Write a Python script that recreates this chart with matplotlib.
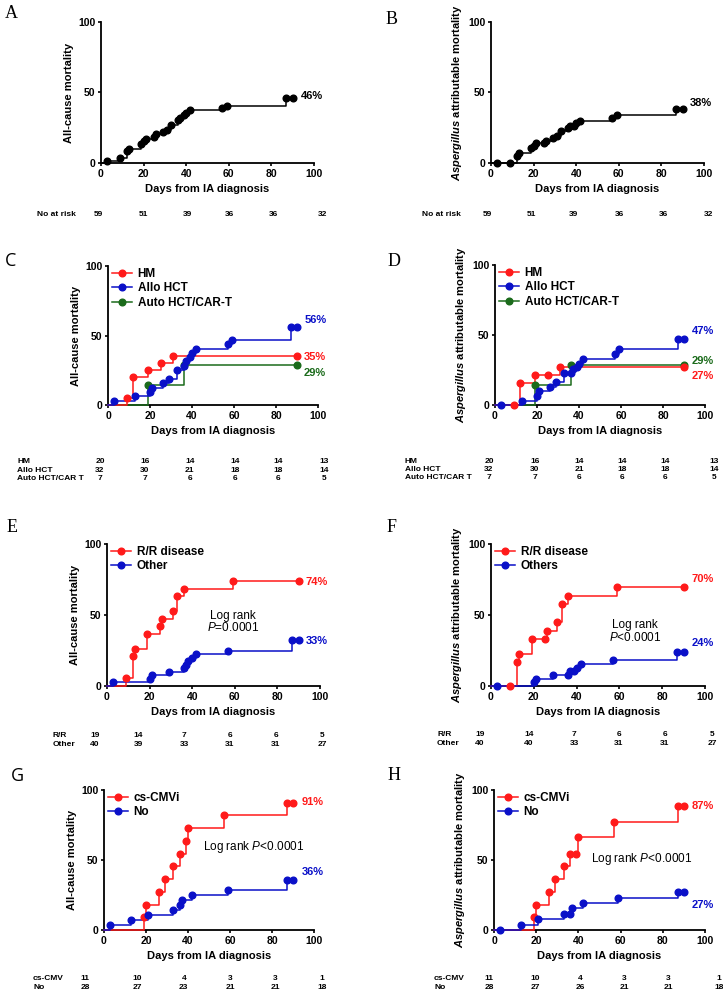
import matplotlib
matplotlib.use("Agg")
import matplotlib.pyplot as plt
import matplotlib.transforms as mtransforms
from matplotlib.lines import Line2D

# ---- data (days from IA diagnosis, cumulative mortality %) ----
A_DAYS = [3, 9, 12, 13, 19, 20, 21, 25, 26, 29, 31, 33, 36, 37, 39, 40, 42, 57, 59, 87, 90]
A_MORT = [1.7, 3.4, 8.5, 10.2, 13.6, 15.3, 17.0, 18.6, 20.3, 22.0, 23.7, 27.1, 30.5, 32.2,
          33.9, 35.6, 37.3, 39.0, 40.7, 45.8, 45.8]

B_DAYS = [3, 9, 12, 13, 19, 20, 21, 25, 26, 29, 31, 33, 36, 37, 39, 40, 42, 57, 59, 87, 90]
B_MORT = [0, 0, 5.3, 7.1, 10.6, 12.4, 14.1, 14.1, 15.9, 17.6, 19.4, 23.0, 24.7, 26.5,
          26.5, 28.3, 30.0, 32.0, 34.0, 38.0, 38.0]

C_HM_DAYS = [9, 12, 19, 25, 31, 90]
C_HM = [5, 20, 25, 30, 35, 35]
C_ALLO_DAYS = [3, 13, 20, 21, 26, 29, 33, 36, 37, 39, 40, 42, 57, 59, 87, 90]
C_ALLO = [3.1, 6.3, 9.4, 12.5, 15.6, 18.8, 25.0, 28.1, 31.3, 34.4, 37.5, 40.6, 43.8, 46.9, 56.3, 56.3]
C_AUTO_DAYS = [19, 36, 90]
C_AUTO = [14.3, 28.6, 28.6]

D_HM_DAYS = [9, 12, 19, 25, 31, 90]
D_HM = [0, 15.8, 21.1, 21.1, 26.8, 26.8]
D_ALLO_DAYS = [3, 13, 20, 21, 26, 29, 33, 36, 37, 39, 40, 42, 57, 59, 87, 90]
D_ALLO = [0, 3.2, 6.5, 9.7, 13.0, 16.2, 22.6, 22.6, 25.5, 27.0, 29.5, 32.6, 36.3, 40.3, 47.0, 47.0]
D_AUTO_DAYS = [19, 36, 90]
D_AUTO = [14.3, 28.6, 28.6]

E_RR_DAYS = [9, 12, 13, 19, 25, 26, 31, 33, 36, 59, 90]
E_RR = [5.3, 21.1, 26.3, 36.8, 42.1, 47.4, 52.6, 63.2, 68.4, 73.7, 73.7]
E_OTHER_DAYS = [3, 20, 21, 29, 36, 37, 38, 40, 42, 57, 87, 90]
E_OTHER = [2.5, 5.0, 7.5, 10.0, 12.5, 15.0, 17.5, 20.0, 22.5, 25.0, 32.5, 32.5]

F_RR_DAYS = [9, 12, 13, 19, 25, 26, 31, 33, 36, 59, 90]
F_RR = [0, 16.7, 22.2, 33.3, 33.3, 38.9, 45.4, 57.6, 63.7, 69.8, 69.8]
F_OTHER_DAYS = [3, 20, 21, 29, 36, 37, 39, 40, 42, 57, 87, 90]
F_OTHER = [0, 2.6, 5.1, 7.7, 7.7, 10.3, 10.3, 12.8, 15.4, 18.0, 23.6, 23.6]

G_CMV_DAYS = [19, 20, 26, 29, 33, 36, 39, 40, 57, 87, 90]
G_CMV = [9.1, 18.2, 27.3, 36.4, 45.5, 54.5, 63.6, 72.7, 81.8, 90.9, 90.9]
G_NO_DAYS = [3, 13, 21, 33, 36, 37, 42, 59, 87, 90]
G_NO = [3.6, 7.1, 10.7, 14.3, 17.9, 21.4, 25.0, 28.6, 35.7, 35.7]

H_CMV_DAYS = [19, 20, 26, 29, 33, 36, 39, 40, 57, 87, 90]
H_CMV = [9.1, 18.2, 27.3, 36.4, 45.5, 54.5, 54.5, 66.2, 77.4, 88.7, 88.7]
H_NO_DAYS = [3, 13, 21, 33, 36, 37, 42, 59, 87, 90]
H_NO = [0, 3.8, 7.7, 11.5, 11.5, 15.4, 19.2, 23.1, 26.9, 26.9]

# numbers at risk
RISK_ALL = [59, 51, 39, 36, 36, 32]
RISK_HM = [20, 16, 14, 14, 14, 13]
RISK_ALLO = [32, 30, 21, 18, 18, 14]
RISK_AUTO = [7, 7, 6, 6, 6, 5]
RISK_RR = [19, 14, 7, 6, 6, 5]
RISK_OTHER_E = [40, 39, 33, 31, 31, 27]
RISK_OTHER_F = [40, 40, 33, 31, 31, 27]
RISK_CMV = [11, 10, 4, 3, 3, 1]
RISK_NO_G = [28, 27, 23, 21, 21, 18]
RISK_NO_H = [28, 27, 26, 21, 21, 18]

RED = "#ff1a1a"
BLUE = "#0a10c8"
GREEN = "#1b6b1b"
BLACK = "#000000"

YLAB_ALL = "All-cause mortality"
YLAB_ASP = r"$\it{Aspergillus}$ attributable mortality"

plt.rcParams["font.family"] = "Liberation Sans"
plt.rcParams["font.weight"] = "bold"
plt.rcParams["axes.labelweight"] = "bold"
plt.rcParams["mathtext.fontset"] = "custom"
plt.rcParams["mathtext.rm"] = "Liberation Sans:weight=bold"
plt.rcParams["mathtext.it"] = "Liberation Sans:style=italic:weight=bold"
plt.rcParams["mathtext.sf"] = "Liberation Sans:style=italic:weight=normal"

W, H = 723, 991
fig = plt.figure(figsize=(W / 100, H / 100), dpi=100)


def add_ax(x0, y0, x1, y1):
    """axes from pixel box (top-left origin)"""
    return fig.add_axes([x0 / W, 1 - y1 / H, (x1 - x0) / W, (y1 - y0) / H])


def km(ax, days, mort, color, label=None):
    ax.step([0] + days, [0] + mort, where="post", color=color, lw=1.1,
            clip_on=False, zorder=3)
    ax.plot(days, mort, "o", color=color, ms=4.8, clip_on=False, zorder=4)
    return Line2D([], [], color=color, lw=1.1, marker="o", ms=4.8, label=label)


def style(ax, ylabel):
    for s in ["top", "right"]:
        ax.spines[s].set_visible(False)
    for s in ["left", "bottom"]:
        ax.spines[s].set_linewidth(1.3)
    ax.set_xlim(0, 100)
    ax.set_ylim(0, 100)
    ax.set_xticks([0, 20, 40, 60, 80, 100])
    ax.set_yticks([0, 50, 100])
    ax.tick_params(direction="out", length=2.5, width=1.2, labelsize=7.5, pad=1.5)
    ax.set_xlabel("Days from IA diagnosis", fontsize=8, labelpad=4)
    ax.set_ylabel(ylabel, fontsize=8, labelpad=3)


def risk(ax, rows, xs, y0, lab_x):
    tr = mtransforms.blended_transform_factory(ax.transData, ax.transAxes)
    step = 8.4 / (ax.get_position().height * H)
    for i, (name, counts) in enumerate(rows):
        y = y0 - i * step
        ax.text(lab_x, y, name, transform=ax.transAxes, fontsize=6,
                ha="left", va="center")
        for x, n in zip(xs, counts):
            ax.text(x, y, str(n), transform=tr, fontsize=6, ha="center", va="center")


def pct(ax, x, y, txt, color):
    ax.text(x, y, txt, color=color, fontsize=8, ha="left", va="center", clip_on=False)


def letter(x, y, txt, family="Liberation Serif"):
    fig.text(x / W, 1 - y / H, txt, fontsize=13, fontweight="normal",
             family=family, ha="center", va="center")


def legend(ax, handles, anchor):
    ax.legend(handles=handles, loc="upper left", bbox_to_anchor=anchor, frameon=False,
              fontsize=8.5, handlelength=1.7, handletextpad=0.45, labelspacing=0.2,
              borderaxespad=0, borderpad=0, numpoints=1)


def logrank(ax, x, y, first, second=None):
    if second is None:
        ax.text(x, y, first, fontsize=8.5, fontweight="normal", ha="center", va="center")
    else:
        ax.text(x, y + 4.2, first, fontsize=8.5, fontweight="normal", ha="center", va="center")
        ax.text(x, y - 4.2, second, fontsize=8.5, fontweight="normal", ha="center", va="center")


# ---------------- A ----------------
ax = add_ax(101, 22, 314, 163)
km(ax, A_DAYS, A_MORT, BLACK)
style(ax, YLAB_ALL)
pct(ax, 93.9, 47.7, "46%", BLACK)
risk(ax, [("No at risk", RISK_ALL)], [-1, 19.7, 40.4, 60.5, 81.2, 103.8], -0.362, -0.30)
letter(11, 13, "A")

# ---------------- B ----------------
ax = add_ax(491, 22, 704, 163)
km(ax, B_DAYS, B_MORT, BLACK)
style(ax, YLAB_ASP)
pct(ax, 93.4, 42.8, "38%", BLACK)
risk(ax, [("No at risk", RISK_ALL)], [-1.9, 18.8, 38.5, 60.1, 80.8, 101.9], -0.362, -0.324)
letter(392, 19, "B")

# ---------------- C ----------------
ax = add_ax(108, 266, 318, 405)
h3 = km(ax, C_AUTO_DAYS, C_AUTO, GREEN, "Auto HCT/CAR-T")
h1 = km(ax, C_HM_DAYS, C_HM, RED, "HM")
h2 = km(ax, C_ALLO_DAYS, C_ALLO, BLUE, "Allo HCT")
style(ax, YLAB_ALL)
legend(ax, [h1, h2, h3], (0.02, 0.985))
pct(ax, 93.8, 61, "56%", BLUE)
pct(ax, 93.0, 34.5, "35%", RED)
pct(ax, 93.0, 23, "29%", GREEN)
risk(ax, [("HM", RISK_HM), ("Allo HCT", RISK_ALLO), ("Auto HCT/CAR T", RISK_AUTO)],
     [-3.8, 17.6, 39, 60.5, 81, 103], -0.41, -0.433)
letter(11, 261, "C", "Open Sans")

# ---------------- D ----------------
ax = add_ax(495, 265, 705, 405)
h3 = km(ax, D_AUTO_DAYS, D_AUTO, GREEN, "Auto HCT/CAR-T")
h1 = km(ax, D_HM_DAYS, D_HM, RED, "HM")
h2 = km(ax, D_ALLO_DAYS, D_ALLO, BLUE, "Allo HCT")
style(ax, YLAB_ASP)
legend(ax, [h1, h2, h3], (0.02, 0.985))
pct(ax, 93.8, 53, "47%", BLUE)
pct(ax, 93.8, 31.4, "29%", GREEN)
pct(ax, 93.8, 20.7, "27%", RED)
risk(ax, [("HM", RISK_HM), ("Allo HCT", RISK_ALLO), ("Auto HCT/CAR T", RISK_AUTO)],
     [-2.9, 19, 40, 60.5, 81, 104.3], -0.40, -0.429)
letter(394, 261, "D")

# ---------------- E ----------------
ax = add_ax(107, 544, 320, 686)
h1 = km(ax, E_RR_DAYS, E_RR, RED, "R/R disease")
h2 = km(ax, E_OTHER_DAYS, E_OTHER, BLUE, "Other")
style(ax, YLAB_ALL)
legend(ax, [h1, h2], (0.02, 0.985))
pct(ax, 93.4, 73.5, "74%", RED)
pct(ax, 93.4, 31.9, "33%", BLUE)
logrank(ax, 59.2, 45.2, "Log rank", r"$\mathsf{P}$=0.0001")
risk(ax, [("R/R", RISK_RR), ("Other", RISK_OTHER_E)],
     [-5.6, 14.6, 36.2, 57.7, 79.3, 101], -0.352, -0.254)
letter(12, 527, "E")

# ---------------- F ----------------
ax = add_ax(491, 544, 705, 686)
h1 = km(ax, F_RR_DAYS, F_RR, RED, "R/R disease")
h2 = km(ax, F_OTHER_DAYS, F_OTHER, BLUE, "Others")
style(ax, YLAB_ASP)
legend(ax, [h1, h2], (0.02, 0.985))
pct(ax, 93.9, 75.3, "70%", RED)
pct(ax, 93.9, 30, "24%", BLUE)
logrank(ax, 67.4, 38.6, "Log rank", r"$\mathsf{P}$<0.0001")
risk(ax, [("R/R", RISK_RR), ("Other", RISK_OTHER_F)],
     [-5.1, 17.8, 38.8, 59.8, 81.3, 103.3], -0.345, -0.252)
letter(392, 527, "F")

# ---------------- G ----------------
ax = add_ax(104, 790, 314, 930)
h1 = km(ax, G_CMV_DAYS, G_CMV, RED, "cs-CMVi")
h2 = km(ax, G_NO_DAYS, G_NO, BLUE, "No")
style(ax, YLAB_ALL)
legend(ax, [h1, h2], (0.02, 0.985))
pct(ax, 94, 91.2, "91%", RED)
pct(ax, 94, 41.7, "36%", BLUE)
logrank(ax, 71.1, 59.5, r"Log rank $\mathsf{P}$<0.0001")
risk(ax, [("cs-CMV", RISK_CMV), ("No", RISK_NO_G)],
     [-9, 15.7, 38, 60, 81.4, 103.8], -0.35, -0.338)
letter(17, 776, "G", "Open Sans")

# ---------------- H ----------------
ax = add_ax(494, 790, 705, 930)
h1 = km(ax, H_CMV_DAYS, H_CMV, RED, "cs-CMVi")
h2 = km(ax, H_NO_DAYS, H_NO, BLUE, "No")
style(ax, YLAB_ASP)
legend(ax, [h1, h2], (0.02, 0.985))
pct(ax, 93.5, 88.6, "87%", RED)
pct(ax, 93.5, 17.9, "27%", BLUE)
logrank(ax, 70.1, 50.5, r"Log rank $\mathsf{P}$<0.0001")
risk(ax, [("cs-CMV", RISK_CMV), ("No", RISK_NO_H)],
     [-2.4, 19.4, 40.8, 61.6, 82.5, 106.6], -0.35, -0.284)
letter(394, 775, "H")

fig.savefig("out.png", dpi=100)
